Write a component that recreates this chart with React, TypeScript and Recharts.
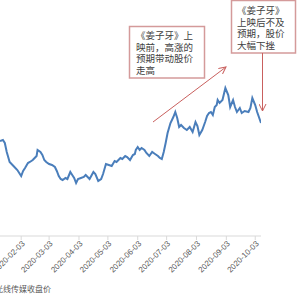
import { LineChart, Line, XAxis, YAxis, Legend } from 'recharts';

const DATES = [
  '2020-01-12', '2020-01-15', '2020-01-17', '2020-01-19', '2020-01-22', '2020-01-26', '2020-01-30',
  '2020-02-03', '2020-02-05', '2020-02-07', '2020-02-10', '2020-02-12', '2020-02-15', '2020-02-17',
  '2020-02-19', '2020-02-20', '2020-02-23', '2020-02-25', '2020-02-27', '2020-02-29',
  '2020-03-03', '2020-03-06', '2020-03-09', '2020-03-11', '2020-03-13', '2020-03-15', '2020-03-17',
  '2020-03-20', '2020-03-22', '2020-03-25', '2020-03-27', '2020-03-29', '2020-03-31',
  '2020-04-02', '2020-04-05', '2020-04-08', '2020-04-10', '2020-04-12', '2020-04-14', '2020-04-18',
  '2020-04-20', '2020-04-23', '2020-04-26', '2020-04-28',
  '2020-05-01', '2020-05-04', '2020-05-07', '2020-05-10', '2020-05-12', '2020-05-16', '2020-05-18',
  '2020-05-21', '2020-05-23', '2020-05-26', '2020-05-29', '2020-05-31',
  '2020-06-01', '2020-06-03', '2020-06-05', '2020-06-07', '2020-06-10', '2020-06-12', '2020-06-15',
  '2020-06-18', '2020-06-21', '2020-06-24', '2020-06-26', '2020-06-28', '2020-06-30',
  '2020-07-02', '2020-07-04', '2020-07-07', '2020-07-10', '2020-07-12', '2020-07-14', '2020-07-16',
  '2020-07-18', '2020-07-21', '2020-07-24', '2020-07-27', '2020-07-30',
  '2020-08-02', '2020-08-04', '2020-08-06', '2020-08-09', '2020-08-12', '2020-08-14', '2020-08-16',
  '2020-08-18', '2020-08-20', '2020-08-22', '2020-08-24', '2020-08-25', '2020-08-27', '2020-08-30',
  '2020-09-02', '2020-09-05', '2020-09-07', '2020-09-10', '2020-09-12', '2020-09-14', '2020-09-17',
  '2020-09-19', '2020-09-22', '2020-09-26', '2020-09-28', '2020-09-30',
  '2020-10-03', '2020-10-05', '2020-10-09',
];

const CLOSES = [
  10.65, 10.72, 10.51, 9.88, 9.18, 8.9, 8.62,
  8.2, 8.55, 8.76, 9.11, 9.18, 9.32, 9.46,
  9.6, 10.02, 9.88, 9.67, 9.32, 9.18,
  9.04, 8.97, 8.83, 8.55, 8.2, 7.99, 7.92,
  8.06, 7.99, 8.48, 8.27, 8.06, 7.71,
  7.99, 8.06, 8.13, 8.27, 8.13, 7.99, 8.48,
  8.34, 7.85, 7.99, 8.34,
  9.04, 8.97, 8.9, 9.25, 9.18, 9.46, 9.39,
  9.6, 9.53, 9.32, 9.67, 9.74,
  10.02, 10.23, 10.02, 10.16, 10.02, 9.81, 9.6,
  9.88, 9.74, 9.6, 9.46, 9.39, 9.88,
  10.51, 11.21, 11.91, 12.33, 12.68, 12.26, 11.63,
  11.77, 11.56, 11.42, 11.63, 11.28,
  11.98, 11.7, 11.07, 11.42, 11.98, 12.4, 12.61,
  12.68, 12.47, 13.03, 13.17, 13.52, 13.31, 13.52,
  14.36, 13.87, 13.03, 13.52, 13.03, 12.68, 12.96,
  12.61, 12.75, 12.68, 12.96, 13.66,
  13.17, 12.68, 11.91,
];

const TICK_DATES = [
  '2020-02-03', '2020-03-03', '2020-04-03', '2020-05-03', '2020-06-03',
  '2020-07-03', '2020-08-03', '2020-09-03', '2020-10-03',
];

const SERIES_NAME = '光线传媒收盘价';
const NOTE_BEFORE = ['《姜子牙》上', '映前，高涨的', '预期带动股价', '走高'];
const NOTE_AFTER = ['《姜子牙》', '上映后不及', '预期，股价', '大幅下挫'];

const LINE_COLOR = '#4a7ebb';
const NOTE_COLOR = '#c9605e';
const CJK = '"Noto Sans CJK SC", sans-serif';

// day of year, Jan 1 = 0
const toDay = (s: string) => {
  const [y, m, d] = s.split('-').map(Number);
  return (Date.UTC(y, m - 1, d) - Date.UTC(y, 0, 1)) / 86400000;
};

const data = DATES.map((date, i) => ({ day: toDay(date), close: CLOSES[i] }));
const ticks = TICK_DATES.map(toDay);

function DateTick({ x, y, payload }: any) {
  const label = TICK_DATES[ticks.indexOf(payload.value)];
  return (
    <text
      x={x + 2}
      y={y}
      dy={3}
      textAnchor="end"
      transform={`rotate(-45 ${x + 2} ${y})`}
      fontSize={8}
      fill="#595959"
      fontFamily="Liberation Sans, Arial, sans-serif"
    >
      {label}
    </text>
  );
}

function SeriesLegend() {
  return (
    <div style={{ display: 'flex', alignItems: 'center', fontFamily: CJK, fontSize: 8, color: '#595959', whiteSpace: 'nowrap' }}>
      <svg width={20} height={8}>
        <line x1={0} y1={4} x2={20} y2={4} stroke={LINE_COLOR} strokeWidth={2} />
      </svg>
      <span style={{ marginLeft: 4 }}>{SERIES_NAME}</span>
    </div>
  );
}

function Notes() {
  return (
    <svg width={300} height={300} style={{ position: 'absolute', left: 0, top: 0, pointerEvents: 'none' }}>
      <defs>
        <marker id="head" markerWidth={8} markerHeight={8} refX={7} refY={4} orient="auto" markerUnits="userSpaceOnUse">
          <path d="M0,0.5 L7,4 L0,7.5" fill="none" stroke={NOTE_COLOR} strokeWidth={1} />
        </marker>
      </defs>

      {/* before release */}
      <rect x={129.5} y={26.5} width={75} height={51.5} fill="#fff" stroke="#d49a9a" strokeWidth={1.5} />
      {NOTE_BEFORE.map((t, i) => (
        <text key={t} x={136} y={39 + i * 11.5} fontSize={9.5} fill="#404040" fontFamily={CJK}>{t}</text>
      ))}
      <line x1={153} y1={122} x2={226} y2={67} stroke={NOTE_COLOR} strokeWidth={1} markerEnd="url(#head)" />

      {/* after release */}
      <rect x={231.5} y={0.5} width={64} height={52.5} fill="#fff" stroke="#d49a9a" strokeWidth={1.5} />
      {NOTE_AFTER.map((t, i) => (
        <text key={t} x={237} y={14 + i * 11.5} fontSize={9.5} fill="#404040" fontFamily={CJK}>{t}</text>
      ))}
      <line x1={262.5} y1={53} x2={262.5} y2={111} stroke={NOTE_COLOR} strokeWidth={1} markerEnd="url(#head)" />
    </svg>
  );
}

export default function App() {
  return (
    <div style={{ position: 'absolute', left: 0, top: 0, width: 300, height: 300, background: '#fff', overflow: 'hidden' }}>
      <LineChart width={300} height={300} data={data} margin={{ top: 36, right: 39, left: 0, bottom: 0 }}>
        <XAxis
          type="number"
          dataKey="day"
          domain={[11, 282]}
          allowDataOverflow
          ticks={ticks}
          interval={0}
          height={64}
          tick={<DateTick />}
          tickSize={4}
          axisLine={{ stroke: '#d9d9d9' }}
          tickLine={{ stroke: '#d9d9d9' }}
        />
        <YAxis hide domain={[4, 18]} allowDataOverflow />
        <Legend
          layout="horizontal"
          verticalAlign="middle"
          align="center"
          content={<SeriesLegend />}
          wrapperStyle={{ left: -29, top: 283, width: 120, height: 10 }}
        />
        <Line
          type="linear"
          dataKey="close"
          name={SERIES_NAME}
          stroke={LINE_COLOR}
          strokeWidth={2}
          dot={false}
          isAnimationActive={false}
        />
      </LineChart>
      <Notes />
    </div>
  );
}
